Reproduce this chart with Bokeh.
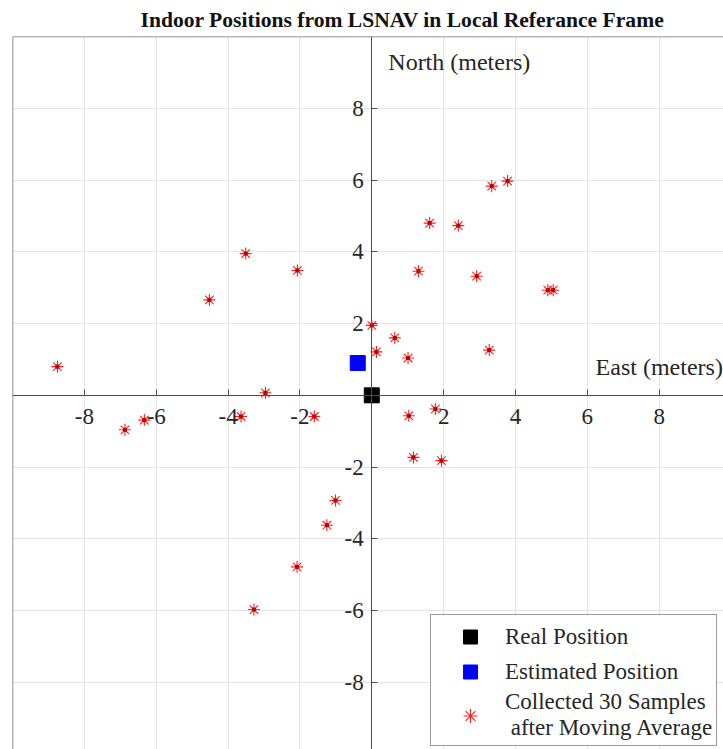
from bokeh.plotting import figure
from bokeh.models import FixedTicker, Span, Label, Legend, LegendItem
from bokeh.embed import file_html
from bokeh.resources import INLINE

# Collected samples after moving average (East, North) in meters
east = [-8.75, -4.52, -3.51, -2.07, -2.96, -6.87, -6.33, -3.64, -1.60, 0.00,
        0.13, 0.64, 1.01, 1.30, 1.61, 2.41, 2.92, 3.27, 3.34, 3.78,
        4.90, 5.05, 1.03, 1.77, 1.16, 1.94, -1.01, -1.25, -2.08, -3.28]
north = [0.80, 2.66, 3.95, 3.48, 0.07, -0.96, -0.69, -0.59, -0.59, 1.95,
         1.21, 1.60, 1.04, 3.46, 4.80, 4.73, 3.32, 1.26, 5.83, 5.97,
         2.93, 2.93, -0.57, -0.38, -1.73, -1.82, -2.93, -3.62, -4.78, -5.97]

real_e = [0.0]
real_n = [0.0]
est_e = [-0.39]
est_n = [0.90]

tick_vals = [-8, -6, -4, -2, 2, 4, 6, 8]
tick_labels = ["-8", "-6", "-4", "-2", "2", "4", "6", "8"]
grid_vals = [-8, -6, -4, -2, 0, 2, 4, 6, 8]

SERIF = "Liberation Serif"

p = figure(width=723, height=749, x_range=(-10, 9.79), y_range=(-9.87, 10),
           output_backend="svg", toolbar_location=None,
           min_border_left=12, min_border_right=0, min_border_bottom=0, min_border_top=0,
           background_fill_color="white", border_fill_color="white")
p.outline_line_color = None

p.title.text = "Indoor Positions from LSNAV in Local Referance Frame"
p.title.text_font = SERIF
p.title.text_font_style = "bold"
p.title.text_font_size = "21.6px"
p.title.align = "left"
p.title.offset = 128
p.title.text_color = "#111111"

for ax in (p.xaxis, p.yaxis):
    ax.fixed_location = 0
    ax.ticker = FixedTicker(ticks=tick_vals)
    ax.major_label_overrides = {v: s for v, s in zip(tick_vals, tick_labels)}
    ax.major_tick_in = 6
    ax.major_tick_out = 0
    ax.minor_tick_in = 0
    ax.minor_tick_out = 0
    ax.axis_line_color = "#4d4d4d"
    ax.major_tick_line_color = "#4d4d4d"
    ax.major_label_text_font = SERIF
    ax.major_label_text_font_size = "23px"
    ax.major_label_text_color = "#262626"
p.xaxis.major_label_standoff = 14
p.yaxis.major_label_standoff = 8

p.xgrid.ticker = FixedTicker(ticks=grid_vals)
p.ygrid.ticker = FixedTicker(ticks=grid_vals)
p.xgrid.grid_line_color = "#e3e3e3"
p.ygrid.grid_line_color = "#e3e3e3"

p.add_layout(Span(location=-10, dimension="height", line_color="#6e6e6e", line_width=1.5))
p.add_layout(Span(location=10, dimension="width", line_color="#6e6e6e", line_width=1.5))

r_s = p.scatter(east, north, marker="asterisk", size=12, line_color="#ff2020", line_width=1.1)
r_dot = p.scatter(east, north, marker="square", size=3, color="#c00000")
r_est = p.scatter(est_e, est_n, marker="square", size=15, color="blue", line_color="blue")
r_real = p.scatter(real_e, real_n, marker="square", size=15, color="black", line_color="black")

p.add_layout(Label(x=0.46, y=9.66, text="North (meters)", text_font=SERIF,
                   text_font_size="24px", text_color="#262626", text_baseline="top"))
p.add_layout(Label(x=6.23, y=0.78, text="East (meters)", text_font=SERIF,
                   text_font_size="24px", text_color="#262626", text_baseline="middle"))

legend = Legend(items=[
    LegendItem(label="Real Position", renderers=[r_real]),
    LegendItem(label="Estimated Position", renderers=[r_est]),
    LegendItem(label="Collected 30 Samples\n after Moving Average", renderers=[r_s]),
], location=(418, 3))
legend.label_text_font = SERIF
legend.label_text_font_size = "23px"
legend.label_text_color = "#262626"
legend.glyph_width = 70
legend.glyph_height = 35
legend.label_height = 35
legend.label_standoff = 0
legend.padding = 4
legend.spacing = 0
legend.margin = 0
legend.border_line_color = "#333333"
legend.border_line_width = 1
legend.background_fill_alpha = 1
p.add_layout(legend)

open("out.html", "w").write(file_html(p, INLINE))
